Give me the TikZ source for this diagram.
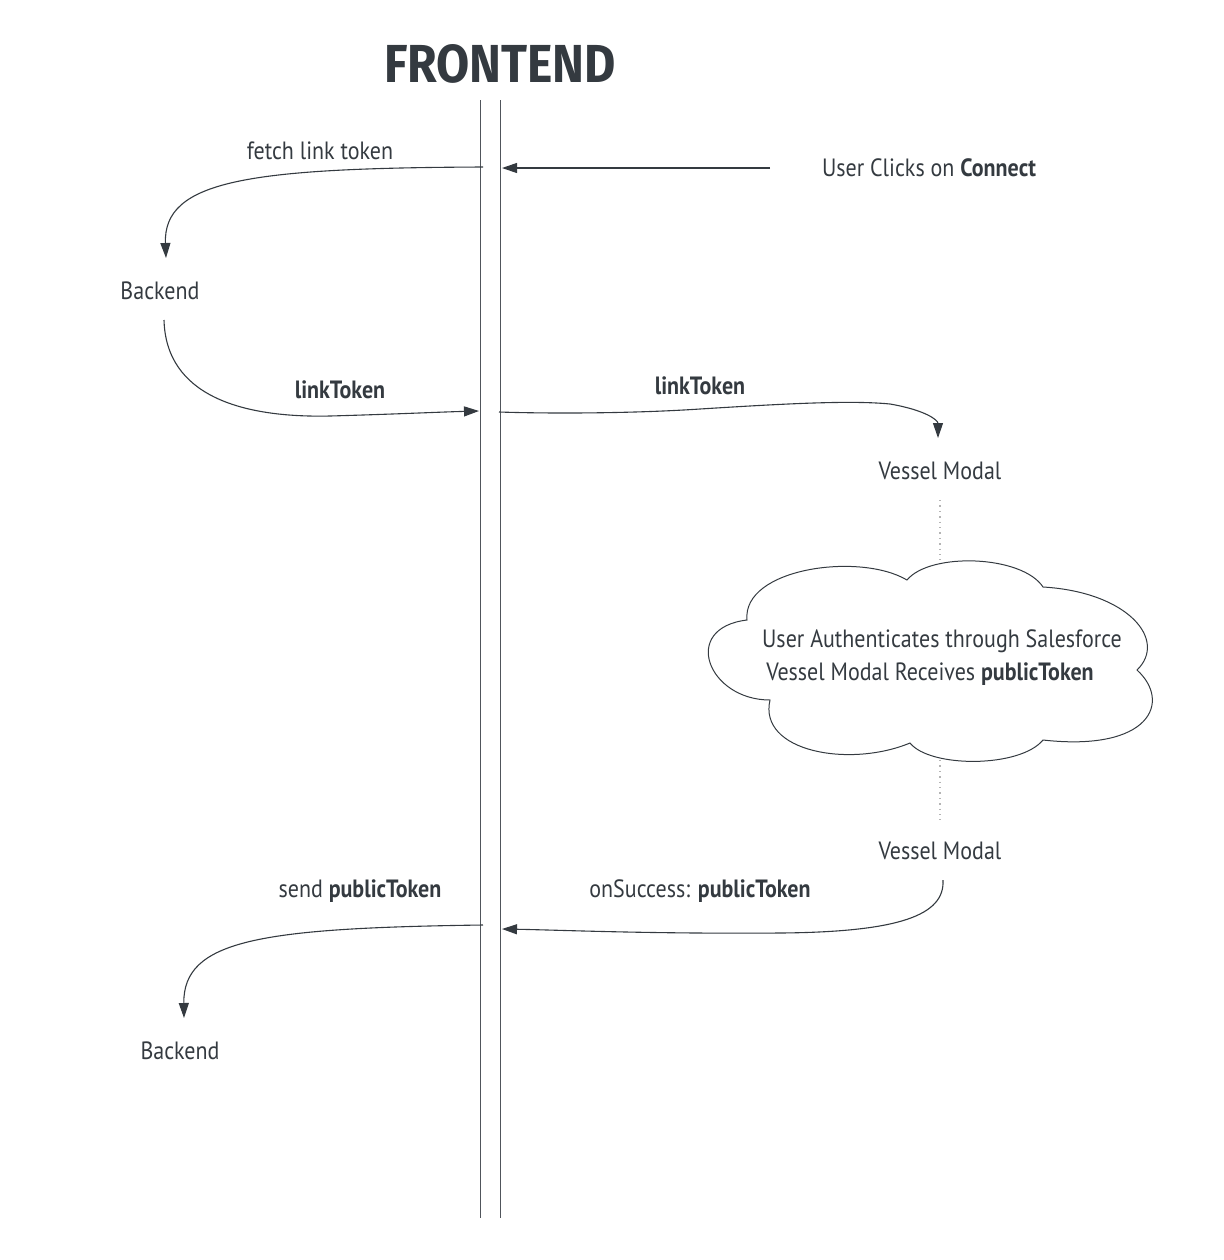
\documentclass[tikz,border=0pt]{standalone}
\usepackage{fontspec}
\setmainfont{PT Sans}[FakeStretch=0.88]
\newfontfamily\titlefont{Fira Sans}
\usetikzlibrary{arrows.meta}
\definecolor{ink}{HTML}{343A40}
\definecolor{life}{HTML}{50555B}
\definecolor{dots}{HTML}{B4B4B4}
\begin{document}
\begin{tikzpicture}[x=0.5pt,y=-0.5pt,
  lbl/.style={font=\fontsize{12.5}{14}\selectfont, text=ink, inner sep=0pt},
  conn/.style={draw=ink, line width=0.55pt, -{Triangle[length=7.5pt,width=5pt]}},
  lifeline/.style={draw=life, line width=0.45pt},
  dotline/.style={draw=dots, line width=0.7pt, dotted},
  cloudline/.style={draw=ink, line width=0.5pt}]
\useasboundingbox (0,0) rectangle (1223,1260);

% title
\node[text=ink, inner sep=0pt] (title) at (500,64)
  {\resizebox{116pt}{19pt}{\titlefont\bfseries FRONTEND}};

% lifelines
\coordinate (lt) at (480,100); \coordinate (lb) at (480,1218);
\coordinate (rt) at (500,100); \coordinate (rb) at (500,1218);
\draw[lifeline] (lt) -- (lb);
\draw[lifeline] (rt) -- (rb);

% nodes
\node[lbl] (fetch) at (320,151) {fetch link token};
\node[lbl] (backend1) at (160,291) {Backend};
\node[lbl] (lt1) at (340,390) {\bfseries linkToken};
\node[lbl] (click) at (929,168) {User Clicks on \bfseries Connect};
\node[lbl] (lt2) at (700,386) {\bfseries linkToken};
\node[lbl] (vm1) at (940,471) {Vessel Modal};
\node[lbl] (auth1) at (942,641) {User Authenticates through Salesforce};
\node[lbl] (auth2) at (930,674) {Vessel Modal Receives \bfseries publicToken};
\node[lbl] (vm2) at (940,851) {Vessel Modal};
\node[lbl] (send) at (360,891) {send \bfseries publicToken};
\node[lbl] (succ) at (700,891) {onSuccess: \bfseries publicToken};
\node[lbl] (backend2) at (180,1051) {Backend};

% cloud
\coordinate (cA) at (770,700); \coordinate (cB) at (747,620);
\coordinate (cC) at (907,580); \coordinate (cD) at (1043,587);
\coordinate (cE) at (1137,670); \coordinate (cF) at (1043,740);
\coordinate (cG) at (910,743);
\draw[cloudline] (cA) .. controls (708,700) and (680,628) .. (cB)
  .. controls (742,568) and (860,552) .. (cC)
  .. controls (930,552) and (1022,555) .. (cD)
  .. controls (1128,592) and (1168,640) .. (cE)
  .. controls (1172,702) and (1150,752) .. (cF)
  .. controls (1020,768) and (930,768) .. (cG)
  .. controls (850,768) and (758,752) .. (cA) -- cycle;
\coordinate (cloudtop) at (940,560);
\coordinate (cloudbot) at (940,760);

% connector ends
\coordinate (clickstart) at (770,168);
\coordinate (r1) at (502,168);
\coordinate (l1) at (483,167);
\coordinate (b1in) at (166,258);
\coordinate (b1out) at (164,320);
\coordinate (l2) at (479,411);
\coordinate (r2) at (499,412);
\coordinate (vm1in) at (938,438);
\coordinate (vm1out) at (940,500);
\coordinate (vm2in) at (940,820);
\coordinate (vm2out) at (943,880);
\coordinate (r3) at (502,929);
\coordinate (l3) at (483,925);
\coordinate (b2in) at (184,1018);

% connectors
\draw[conn] (clickstart) -- (r1);
\draw[conn] (l1) .. controls (250,168) and (163,180) .. (b1in);
\draw[conn] (b1out) .. controls (166,395) and (240,418) .. (330,416)
  .. controls (400,414) and (440,412) .. (l2);
\draw[conn] (r2) .. controls (560,414) and (640,413) .. (700,409)
  .. controls (780,404) and (850,400) .. (890,404)
  .. controls (925,410) and (938,420) .. (vm1in);
\draw[dotline] (vm1out) -- (cloudtop);
\draw[dotline] (cloudbot) -- (vm2in);
\draw[conn] (vm2out) .. controls (945,915) and (900,932) .. (780,933)
  .. controls (650,934) and (560,930) .. (r3);
\draw[conn] (l3) .. controls (260,928) and (183,940) .. (b2in);
\end{tikzpicture}
\end{document}
